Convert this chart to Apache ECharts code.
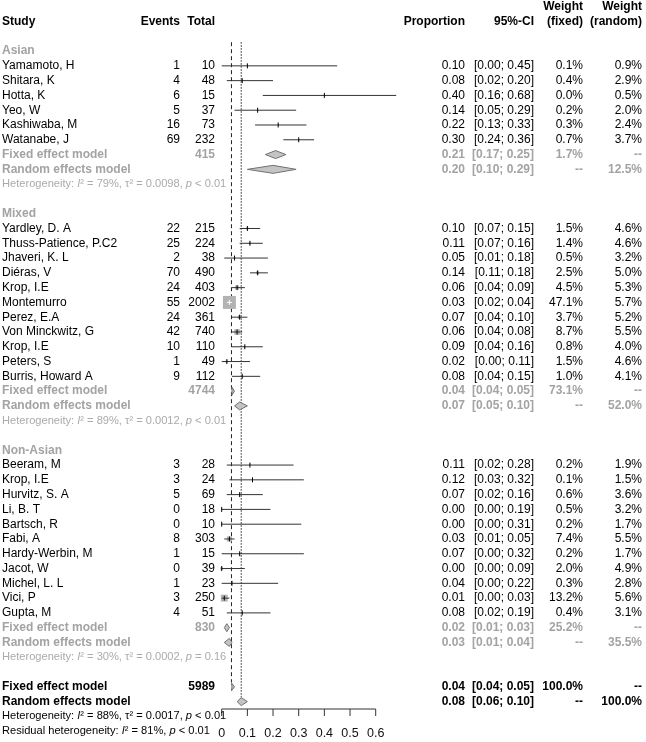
<!DOCTYPE html>
<html><head><meta charset="utf-8">
<script src="https://cdn.jsdelivr.net/npm/echarts@6/dist/echarts.min.js"></script>
<style>html,body{margin:0;padding:0;background:#fff}#c{width:646px;height:742px}</style>
</head><body><div id="c"></div>
<script>
// ---------------- DATA ----------------
const groupNames = ['Asian', 'Mixed', 'Non-Asian'];
const studyNames = ['Yamamoto, H','Shitara, K','Hotta, K','Yeo, W','Kashiwaba, M','Watanabe, J',
  'Yardley, D. A','Thuss-Patience, P.C2','Jhaveri, K. L','Diéras, V','Krop, I.E','Montemurro','Perez, E.A','Von Minckwitz, G','Krop, I.E','Peters, S','Burris, Howard A',
  'Beeram, M','Krop, I.E','Hurvitz, S. A','Li, B. T','Bartsch, R','Fabi, A','Hardy-Werbin, M','Jacot, W','Michel, L. L','Vici, P','Gupta, M'];
const studyGroup = [0,0,0,0,0,0, 1,1,1,1,1,1,1,1,1,1,1, 2,2,2,2,2,2,2,2,2,2,2];
const events = [1,4,6,5,16,69, 22,25,2,70,24,55,24,42,10,1,9, 3,3,5,0,0,8,1,0,1,3,4];
const totals = [10,48,15,37,73,232, 215,224,38,490,403,2002,361,740,110,49,112, 28,24,69,18,10,303,15,39,23,250,51];
const proportion = [0.10,0.08,0.40,0.14,0.22,0.30, 0.10,0.11,0.05,0.14,0.06,0.03,0.07,0.06,0.09,0.02,0.08, 0.11,0.12,0.07,0.00,0.00,0.03,0.07,0.00,0.04,0.01,0.08];
const ciLower = [0.00,0.02,0.16,0.05,0.13,0.24, 0.07,0.07,0.01,0.11,0.04,0.02,0.04,0.04,0.04,0.00,0.04, 0.02,0.03,0.02,0.00,0.00,0.01,0.00,0.00,0.00,0.00,0.02];
const ciUpper = [0.45,0.20,0.68,0.29,0.33,0.36, 0.15,0.16,0.18,0.18,0.09,0.04,0.10,0.08,0.16,0.11,0.15, 0.28,0.32,0.16,0.19,0.31,0.05,0.32,0.09,0.22,0.03,0.19];
const weightFixed = [0.1,0.4,0.0,0.2,0.3,0.7, 1.5,1.4,0.5,2.5,4.5,47.1,3.7,8.7,0.8,1.5,1.0, 0.2,0.1,0.6,0.5,0.2,7.4,0.2,2.0,0.3,13.2,0.4];
const weightRandom = [0.9,2.9,0.5,2.0,2.4,3.7, 4.6,4.6,3.2,5.0,5.3,5.7,5.2,5.5,4.0,4.6,4.1, 1.9,1.5,3.6,3.2,1.7,5.5,1.7,4.9,2.8,5.6,3.1];

const fixedTotal = [415, 4744, 830];
const fixedEst = [0.21, 0.04, 0.02];
const fixedLower = [0.17, 0.04, 0.01];
const fixedUpper = [0.25, 0.05, 0.03];
const fixedWeight = [1.7, 73.1, 25.2];
const randomEst = [0.20, 0.07, 0.03];
const randomLower = [0.10, 0.05, 0.01];
const randomUpper = [0.29, 0.10, 0.04];
const randomWeight = [12.5, 52.0, 35.5];
const hetI2 = ['79%', '89%', '30%'];
const hetTau2 = ['0.0098', '0.0012', '0.0002'];
const hetP = ['< 0.01', '< 0.01', '= 0.16'];

const overallTotal = 5989;
const overallFixed = [0.038, 0.04, 0.05];   // est, lower, upper
const overallRandom = [0.076, 0.06, 0.10];
const overallHet = ['88%', '0.0017', '< 0.01'];
const residualHet = ['81%', '< 0.01'];

const xTicks = [0, 0.1, 0.2, 0.3, 0.4, 0.5, 0.6];

// ---------------- LAYOUT ----------------
const FAM = '"Liberation Sans", Arial, sans-serif';
const F = (s, b, it) => (it ? 'italic ' : '') + (b ? 'bold ' : '') + s + 'px ' + FAM;
const COL = {study: 2, events: 180, total: 215, prop: 465, ci: 534, wf: 583, wr: 642};
const BLACK = '#000', GREY = '#a3a3a3', HETC = '#aaaaaa';
const HETF = 11.1;
const AXIS_ROW = 46.5;

const f2 = v => v.toFixed(2);
const ciTxt = (l, u) => '[' + f2(l) + '; ' + f2(u) + ']';
const pct = w => w.toFixed(1) + '%';

const textRows = [];
const studyRows = [];
const diamondRows = [];
function hetText(i2, tau, p) {
  return 'Heterogeneity: {it|I}² = ' + i2 + ', τ² = ' + tau + ', {it|p} ' + p;
}
textRows.push({row: 0, cells: [
  [COL.study, 'Study', 'left', F(12, true), BLACK],
  [COL.events, 'Events', 'right', F(12, true), BLACK],
  [COL.total, 'Total', 'right', F(12, true), BLACK],
  [COL.prop, 'Proportion', 'right', F(12, true), BLACK],
  [COL.ci, '95%-CI', 'right', F(12, true), BLACK],
  [COL.wf, '(fixed)', 'right', F(12, true), BLACK],
  [COL.wr, '(random)', 'right', F(12, true), BLACK]]});
textRows.push({row: -1, cells: [
  [COL.wf, 'Weight', 'right', F(12, true), BLACK],
  [COL.wr, 'Weight', 'right', F(12, true), BLACK]]});

let r = 2;
groupNames.forEach((g, gi) => {
  textRows.push({row: r, cells: [[COL.study, g, 'left', F(12, true), GREY]]});
  r++;
  studyNames.forEach((n, i) => {
    if (studyGroup[i] !== gi) return;
    studyRows[i] = r;
    textRows.push({row: r, cells: [
      [COL.study, n, 'left', F(12), BLACK],
      [COL.events, String(events[i]), 'right', F(12), BLACK],
      [COL.total, String(totals[i]), 'right', F(12), BLACK],
      [COL.prop, f2(proportion[i]), 'right', F(12), BLACK],
      [COL.ci, ciTxt(ciLower[i], ciUpper[i]), 'right', F(12), BLACK],
      [COL.wf, pct(weightFixed[i]), 'right', F(12), BLACK],
      [COL.wr, pct(weightRandom[i]), 'right', F(12), BLACK]]});
    r++;
  });
  textRows.push({row: r, cells: [
    [COL.study, 'Fixed effect model', 'left', F(12, true), GREY],
    [COL.total, String(fixedTotal[gi]), 'right', F(12, true), GREY],
    [COL.prop, f2(fixedEst[gi]), 'right', F(12, true), GREY],
    [COL.ci, ciTxt(fixedLower[gi], fixedUpper[gi]), 'right', F(12, true), GREY],
    [COL.wf, pct(fixedWeight[gi]), 'right', F(12, true), GREY],
    [COL.wr, '--', 'right', F(12, true), GREY]]});
  diamondRows.push([fixedEst[gi], r, fixedLower[gi], fixedUpper[gi]]);
  r++;
  textRows.push({row: r, cells: [
    [COL.study, 'Random effects model', 'left', F(12, true), GREY],
    [COL.prop, f2(randomEst[gi]), 'right', F(12, true), GREY],
    [COL.ci, ciTxt(randomLower[gi], randomUpper[gi]), 'right', F(12, true), GREY],
    [COL.wf, '--', 'right', F(12, true), GREY],
    [COL.wr, pct(randomWeight[gi]), 'right', F(12, true), GREY]]});
  diamondRows.push([randomEst[gi], r, randomLower[gi], randomUpper[gi]]);
  r++;
  textRows.push({row: r, cells: [[COL.study, hetText(hetI2[gi], hetTau2[gi], hetP[gi]), 'left', F(HETF), HETC]]});
  r++;
  r++;
});
const fixedRowAll = r;
textRows.push({row: r, cells: [
  [COL.study, 'Fixed effect model', 'left', F(12, true), BLACK],
  [COL.total, String(overallTotal), 'right', F(12, true), BLACK],
  [COL.prop, f2(overallFixed[0]), 'right', F(12, true), BLACK],
  [COL.ci, ciTxt(overallFixed[1], overallFixed[2]), 'right', F(12, true), BLACK],
  [COL.wf, '100.0%', 'right', F(12, true), BLACK],
  [COL.wr, '--', 'right', F(12, true), BLACK]]});
diamondRows.push([overallFixed[0], r, overallFixed[1], overallFixed[2]]);
r++;
const randomRowAll = r;
textRows.push({row: r, cells: [
  [COL.study, 'Random effects model', 'left', F(12, true), BLACK],
  [COL.prop, f2(overallRandom[0]), 'right', F(12, true), BLACK],
  [COL.ci, ciTxt(overallRandom[1], overallRandom[2]), 'right', F(12, true), BLACK],
  [COL.wf, '--', 'right', F(12, true), BLACK],
  [COL.wr, '100.0%', 'right', F(12, true), BLACK]]});
diamondRows.push([overallRandom[0], r, overallRandom[1], overallRandom[2]]);
r++;
textRows.push({row: r, cells: [[COL.study, hetText(overallHet[0], overallHet[1], overallHet[2]), 'left', F(HETF), BLACK]]});
r++;
textRows.push({row: r, cells: [[COL.study, 'Residual heterogeneity: {it|I}² = ' + residualHet[0] + ', {it|p} ' + residualHet[1], 'left', F(HETF), BLACK]]});

const refLines = [
  [overallFixed[0], 1.4, fixedRowAll - 0.3, 0],
  [overallRandom[0], 1.4, randomRowAll - 0.3, 1]
];

// ---------------- CHART ----------------
const chart = echarts.init(document.getElementById('c'));
const maxW = Math.max(...weightFixed);
const option = {
  animation: false,
  grid: {left: 221.7, top: 21.5, width: 154, height: 687.5},
  xAxis: {
    type: 'value', position: 'bottom', min: xTicks[0], max: xTicks[xTicks.length - 1], interval: 0.1,
    axisLine: {show: false, onZero: false},
    axisTick: {show: false},
    axisLabel: {fontSize: 12.5, fontFamily: FAM, color: '#111', margin: 18},
    splitLine: {show: false}
  },
  yAxis: {type: 'value', min: 0, max: AXIS_ROW, inverse: true, show: false},
  series: [
    {
      // axis line with ticks, positioned through the axis scales
      type: 'custom', clip: false, silent: true,
      data: xTicks.map(v => [v, AXIS_ROW]),
      encode: {x: 0, y: 1},
      renderItem: (p, api) => {
        const c = api.coord([api.value(0), api.value(1)]);
        const ch = [{type: 'line', shape: {x1: c[0], y1: c[1], x2: c[0], y2: c[1] + 7}, style: {stroke: '#333', lineWidth: 1}}];
        if (p.dataIndex === 0) {
          const e = api.coord([xTicks[xTicks.length - 1], api.value(1)]);
          ch.push({type: 'line', shape: {x1: c[0], y1: c[1], x2: e[0], y2: e[1]}, style: {stroke: '#333', lineWidth: 1}});
        }
        return {type: 'group', children: ch};
      }
    },
    {
      type: 'custom', clip: false, silent: true,
      data: refLines,
      encode: {x: 0, y: 1},
      renderItem: (p, api) => {
        const a = api.coord([api.value(0), api.value(1)]);
        const b = api.coord([api.value(0), api.value(2)]);
        const dotted = api.value(3) === 1;
        return {type: 'line', shape: {x1: a[0], y1: a[1], x2: b[0], y2: b[1]},
          style: {stroke: '#222', lineWidth: 1, lineDash: dotted ? [1.5, 1.5] : [4, 3]}};
      }
    },
    {
      type: 'custom', clip: false, silent: true,
      data: studyNames.map((n, i) => [proportion[i], studyRows[i], ciLower[i], ciUpper[i], weightFixed[i]]),
      encode: {x: 0, y: 1},
      renderItem: (p, api) => {
        const c = api.coord([api.value(0), api.value(1)]);
        const lo = api.coord([api.value(2), api.value(1)]);
        const hi = api.coord([api.value(3), api.value(1)]);
        const side = 13 * Math.sqrt(api.value(4) / maxW);
        const inside = side > 0 && lo[0] >= c[0] - side / 2 && hi[0] <= c[0] + side / 2;
        const col = inside ? '#fff' : '#333';
        const ch = [];
        if (side > 0) ch.push({type: 'rect', shape: {x: c[0] - side / 2, y: c[1] - side / 2, width: side, height: side}, style: {fill: '#b3b3b3'}});
        ch.push({type: 'line', shape: {x1: lo[0], y1: c[1], x2: hi[0], y2: c[1]}, style: {stroke: col, lineWidth: 1}});
        ch.push({type: 'line', shape: {x1: c[0], y1: c[1] - 2.5, x2: c[0], y2: c[1] + 2.5}, style: {stroke: inside ? '#fff' : '#000', lineWidth: 1}});
        return {type: 'group', children: ch};
      }
    },
    {
      type: 'custom', clip: false, silent: true,
      data: diamondRows,
      encode: {x: 0, y: 1},
      renderItem: (p, api) => {
        const c = api.coord([api.value(0), api.value(1)]);
        const lo = api.coord([api.value(2), api.value(1)]);
        const hi = api.coord([api.value(3), api.value(1)]);
        const h = 4;
        return {type: 'polygon', shape: {points: [[lo[0], c[1]], [c[0], c[1] - h], [hi[0], c[1]], [c[0], c[1] + h]]},
          style: {fill: '#c4c4c4', stroke: '#707070', lineWidth: 1}};
      }
    },
    {
      type: 'custom', clip: false, silent: true,
      data: textRows.map(t => [0, t.row]),
      encode: {x: 0, y: 1},
      renderItem: (p, api) => {
        const t = textRows[p.dataIndex];
        const y = api.coord([0, api.value(1)])[1];
        return {type: 'group', children: t.cells.map(cell => ({
          type: 'text',
          style: {x: cell[0], y: y, text: cell[1], align: cell[2], verticalAlign: 'middle', font: cell[3], fill: cell[4],
            rich: {it: {font: cell[3].replace(/^(bold )?/, 'italic $1'), fill: cell[4]}}}
        }))};
      }
    }
  ]
};
chart.setOption(option);
</script></body></html>
